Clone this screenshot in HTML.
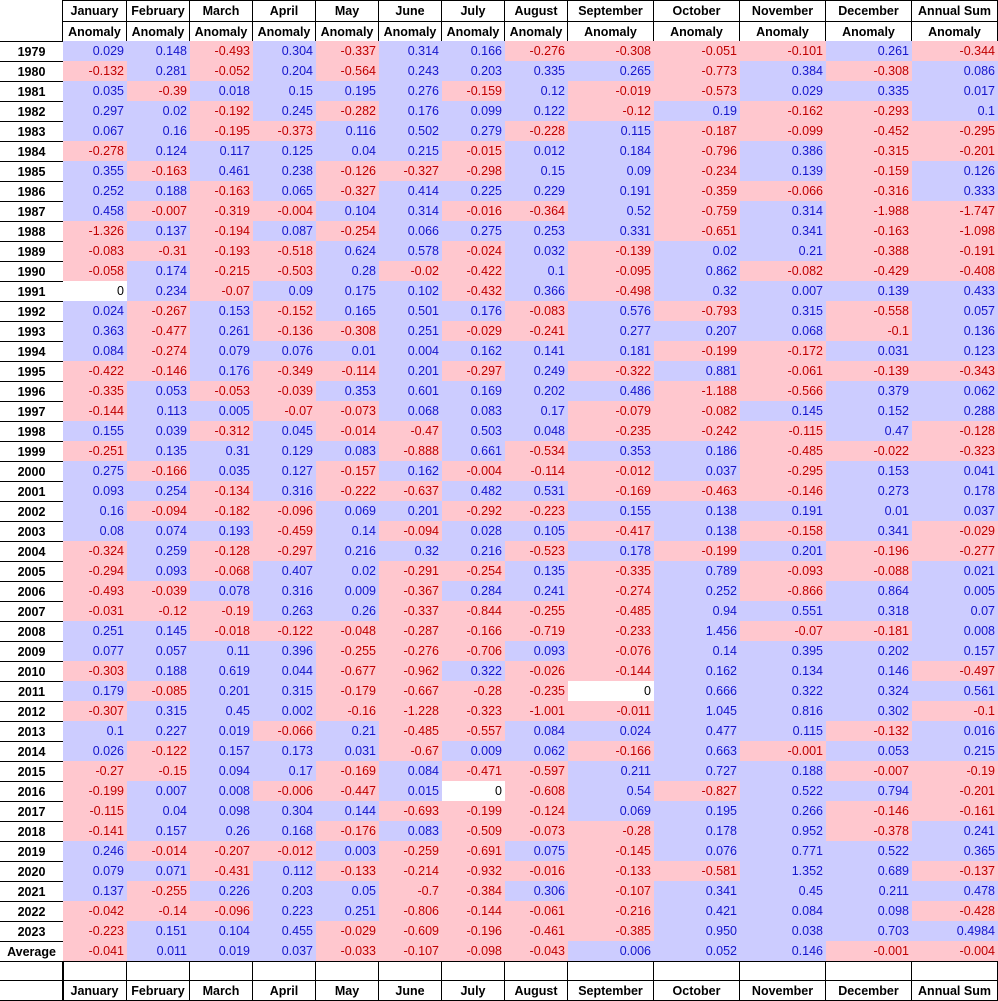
<!DOCTYPE html>
<html><head><meta charset="utf-8">
<style>
body{margin:0;background:#fff;width:998px;height:1001px;overflow:hidden;font-family:"Liberation Sans",Arial,sans-serif;}
#t{position:absolute;left:0;top:0;width:998px;height:1001px;}
.c{position:absolute;box-sizing:border-box;font-size:12.5px;line-height:20px;white-space:nowrap;}
.h{font-weight:bold;text-align:center;border:1px solid #000;color:#000;background:#fff;}
.y{font-weight:bold;text-align:center;border:1px solid #000;color:#000;}
.v{text-align:right;padding-right:3px;}
.p{background:#ccccff;color:#1515cc;}
.n{background:#ffc7ce;color:#c00000;}
.z{background:#fff;color:#000;}
</style></head><body>
<div id="t"></div>
<script>
const months=["January","February","March","April","May","June","July","August","September","October","November","December","Annual Sum"];
const rowLabels=["1979","1980","1981","1982","1983","1984","1985","1986","1987","1988","1989","1990","1991","1992","1993","1994","1995","1996","1997","1998","1999","2000","2001","2002","2003","2004","2005","2006","2007","2008","2009","2010","2011","2012","2013","2014","2015","2016","2017","2018","2019","2020","2021","2022","2023","Average"];
const values=[
["0.029","0.148","-0.493","0.304","-0.337","0.314","0.166","-0.276","-0.308","-0.051","-0.101","0.261","-0.344"],
["-0.132","0.281","-0.052","0.204","-0.564","0.243","0.203","0.335","0.265","-0.773","0.384","-0.308","0.086"],
["0.035","-0.39","0.018","0.15","0.195","0.276","-0.159","0.12","-0.019","-0.573","0.029","0.335","0.017"],
["0.297","0.02","-0.192","0.245","-0.282","0.176","0.099","0.122","-0.12","0.19","-0.162","-0.293","0.1"],
["0.067","0.16","-0.195","-0.373","0.116","0.502","0.279","-0.228","0.115","-0.187","-0.099","-0.452","-0.295"],
["-0.278","0.124","0.117","0.125","0.04","0.215","-0.015","0.012","0.184","-0.796","0.386","-0.315","-0.201"],
["0.355","-0.163","0.461","0.238","-0.126","-0.327","-0.298","0.15","0.09","-0.234","0.139","-0.159","0.126"],
["0.252","0.188","-0.163","0.065","-0.327","0.414","0.225","0.229","0.191","-0.359","-0.066","-0.316","0.333"],
["0.458","-0.007","-0.319","-0.004","0.104","0.314","-0.016","-0.364","0.52","-0.759","0.314","-1.988","-1.747"],
["-1.326","0.137","-0.194","0.087","-0.254","0.066","0.275","0.253","0.331","-0.651","0.341","-0.163","-1.098"],
["-0.083","-0.31","-0.193","-0.518","0.624","0.578","-0.024","0.032","-0.139","0.02","0.21","-0.388","-0.191"],
["-0.058","0.174","-0.215","-0.503","0.28","-0.02","-0.422","0.1","-0.095","0.862","-0.082","-0.429","-0.408"],
["0","0.234","-0.07","0.09","0.175","0.102","-0.432","0.366","-0.498","0.32","0.007","0.139","0.433"],
["0.024","-0.267","0.153","-0.152","0.165","0.501","0.176","-0.083","0.576","-0.793","0.315","-0.558","0.057"],
["0.363","-0.477","0.261","-0.136","-0.308","0.251","-0.029","-0.241","0.277","0.207","0.068","-0.1","0.136"],
["0.084","-0.274","0.079","0.076","0.01","0.004","0.162","0.141","0.181","-0.199","-0.172","0.031","0.123"],
["-0.422","-0.146","0.176","-0.349","-0.114","0.201","-0.297","0.249","-0.322","0.881","-0.061","-0.139","-0.343"],
["-0.335","0.053","-0.053","-0.039","0.353","0.601","0.169","0.202","0.486","-1.188","-0.566","0.379","0.062"],
["-0.144","0.113","0.005","-0.07","-0.073","0.068","0.083","0.17","-0.079","-0.082","0.145","0.152","0.288"],
["0.155","0.039","-0.312","0.045","-0.014","-0.47","0.503","0.048","-0.235","-0.242","-0.115","0.47","-0.128"],
["-0.251","0.135","0.31","0.129","0.083","-0.888","0.661","-0.534","0.353","0.186","-0.485","-0.022","-0.323"],
["0.275","-0.166","0.035","0.127","-0.157","0.162","-0.004","-0.114","-0.012","0.037","-0.295","0.153","0.041"],
["0.093","0.254","-0.134","0.316","-0.222","-0.637","0.482","0.531","-0.169","-0.463","-0.146","0.273","0.178"],
["0.16","-0.094","-0.182","-0.096","0.069","0.201","-0.292","-0.223","0.155","0.138","0.191","0.01","0.037"],
["0.08","0.074","0.193","-0.459","0.14","-0.094","0.028","0.105","-0.417","0.138","-0.158","0.341","-0.029"],
["-0.324","0.259","-0.128","-0.297","0.216","0.32","0.216","-0.523","0.178","-0.199","0.201","-0.196","-0.277"],
["-0.294","0.093","-0.068","0.407","0.02","-0.291","-0.254","0.135","-0.335","0.789","-0.093","-0.088","0.021"],
["-0.493","-0.039","0.078","0.316","0.009","-0.367","0.284","0.241","-0.274","0.252","-0.866","0.864","0.005"],
["-0.031","-0.12","-0.19","0.263","0.26","-0.337","-0.844","-0.255","-0.485","0.94","0.551","0.318","0.07"],
["0.251","0.145","-0.018","-0.122","-0.048","-0.287","-0.166","-0.719","-0.233","1.456","-0.07","-0.181","0.008"],
["0.077","0.057","0.11","0.396","-0.255","-0.276","-0.706","0.093","-0.076","0.14","0.395","0.202","0.157"],
["-0.303","0.188","0.619","0.044","-0.677","-0.962","0.322","-0.026","-0.144","0.162","0.134","0.146","-0.497"],
["0.179","-0.085","0.201","0.315","-0.179","-0.667","-0.28","-0.235","0","0.666","0.322","0.324","0.561"],
["-0.307","0.315","0.45","0.002","-0.16","-1.228","-0.323","-1.001","-0.011","1.045","0.816","0.302","-0.1"],
["0.1","0.227","0.019","-0.066","0.21","-0.485","-0.557","0.084","0.024","0.477","0.115","-0.132","0.016"],
["0.026","-0.122","0.157","0.173","0.031","-0.67","0.009","0.062","-0.166","0.663","-0.001","0.053","0.215"],
["-0.27","-0.15","0.094","0.17","-0.169","0.084","-0.471","-0.597","0.211","0.727","0.188","-0.007","-0.19"],
["-0.199","0.007","0.008","-0.006","-0.447","0.015","0","-0.608","0.54","-0.827","0.522","0.794","-0.201"],
["-0.115","0.04","0.098","0.304","0.144","-0.693","-0.199","-0.124","0.069","0.195","0.266","-0.146","-0.161"],
["-0.141","0.157","0.26","0.168","-0.176","0.083","-0.509","-0.073","-0.28","0.178","0.952","-0.378","0.241"],
["0.246","-0.014","-0.207","-0.012","0.003","-0.259","-0.691","0.075","-0.145","0.076","0.771","0.522","0.365"],
["0.079","0.071","-0.431","0.112","-0.133","-0.214","-0.932","-0.016","-0.133","-0.581","1.352","0.689","-0.137"],
["0.137","-0.255","0.226","0.203","0.05","-0.7","-0.384","0.306","-0.107","0.341","0.45","0.211","0.478"],
["-0.042","-0.14","-0.096","0.223","0.251","-0.806","-0.144","-0.061","-0.216","0.421","0.084","0.098","-0.428"],
["-0.223","0.151","0.104","0.455","-0.029","-0.609","-0.196","-0.461","-0.385","0.950","0.038","0.703","0.4984"],
["-0.041","0.011","0.019","0.037","-0.033","-0.107","-0.098","-0.043","0.006","0.052","0.146","-0.001","-0.004"]
];
const xs=[0,63,127,190,253,316,379,442,505,568,654,740,826,912,998];
const t=document.getElementById('t');
function cell(x,y,w,h,cls,txt){const d=document.createElement('div');d.className='c '+cls;d.style.left=x+'px';d.style.top=y+'px';d.style.width=w+'px';d.style.height=h+'px';d.textContent=txt;t.appendChild(d);return d;}
for(let j=0;j<13;j++){
 const x=xs[j+1]-1,w=xs[j+2]-xs[j+1]+1;
 let d=cell(x,0,w,22,'h',months[j]);
 
 
 d=cell(x,21,w,21,'h','Anomaly');
 
 
 d=cell(x,980,w,21,'h',months[j]);
 
 
 d=cell(x,961,w,20,'h','');
 
 
}
for(let i=0;i<rowLabels.length;i++){
 const y=41+i*20;
 let d=cell(-1,y,65,21,'y',rowLabels[i]);
 
 
 for(let j=0;j<13;j++){
  const v=values[i][j],n=parseFloat(v);
  const cls=n>0?'p':(n<0?'n':'z');
  d=cell(xs[j+1],y,xs[j+2]-xs[j+1],20,'v '+cls,v);
  
  
 }
}
let d=cell(-1,961,65,20,'y','');


d=cell(-1,980,65,21,'y','');


</script>
</body></html>
